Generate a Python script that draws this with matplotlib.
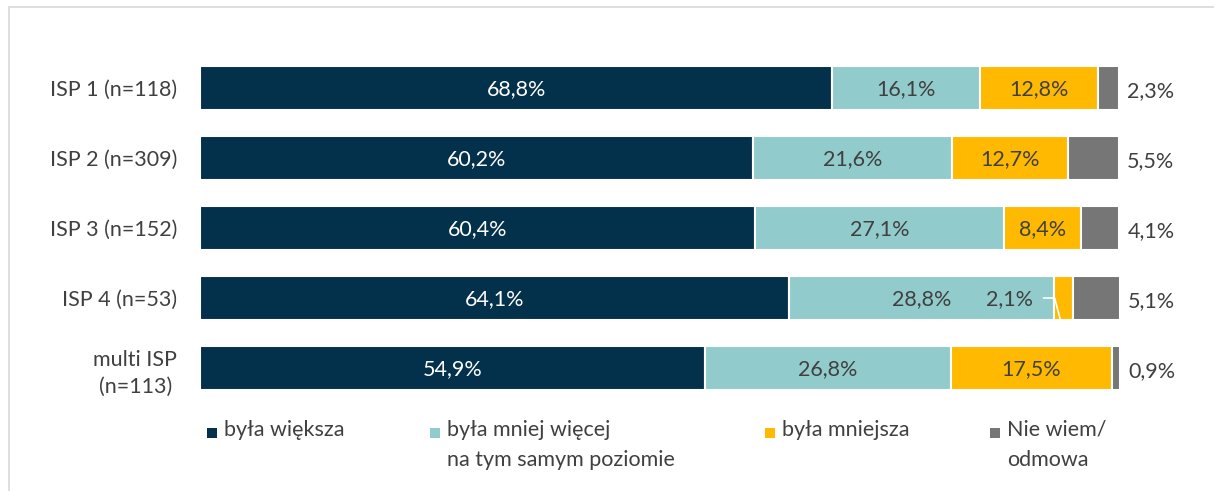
import matplotlib
matplotlib.use("Agg")
import matplotlib.pyplot as plt
from matplotlib.patches import Rectangle
import numpy as np

plt.rcParams['font.family'] = ['Lato', 'DejaVu Sans']

categories = ["ISP 1 (n=118)", "ISP 2 (n=309)", "ISP 3 (n=152)", "ISP 4 (n=53)", "multi ISP\n(n=113)"]
series_names = ["była większa", "była mniej więcej\nna tym samym poziomie", "była mniejsza", "Nie wiem/\nodmowa"]
wieksza = [68.8, 60.2, 60.4, 64.1, 54.9]
taka_sama = [16.1, 21.6, 27.1, 28.8, 26.8]
mniejsza = [12.8, 12.7, 8.4, 2.1, 17.5]
nie_wiem = [2.3, 5.5, 4.1, 5.1, 0.9]

colors = ["#03304a", "#92cbcb", "#ffb900", "#767676"]
text_dark = "#404040"

W, H = 1214, 491
fig = plt.figure(figsize=(W / 100, H / 100), dpi=100)

# outer border
fig.add_artist(Rectangle((9 / W, -0.1), 1.2, 1 - 7 / H + 0.1, transform=fig.transFigure,
                         fill=False, edgecolor="#d9d9d9", linewidth=1.2))

ax = fig.add_axes([200 / W, 1 - 403 / H, 919 / W, 350 / H])
series = [wieksza, taka_sama, mniejsza, nie_wiem]
y = np.arange(len(categories))
left = np.zeros(len(categories))
fs = 15.5
for si, vals in enumerate(series):
    vals = np.array(vals)
    ax.barh(y, vals, left=left, height=0.63, color=colors[si], edgecolor="white", linewidth=1.5)
    for i, v in enumerate(vals):
        lab = f"{v:.1f}".replace(".", ",") + "%"
        if si == 3:
            ax.text(left[i] + v + 0.9, y[i] + 0.05, lab, ha="left", va="center", color=text_dark, fontsize=fs)
        elif si == 2 and v < 5:
            # small segment: label placed inside the previous segment with leader line
            tx = left[i] - 4.8
            ax.text(tx, y[i] + 0.02, lab, ha="center", va="center", color=text_dark, fontsize=fs)
            ax.plot([tx + 3.7, tx + 4.9, left[i] + v * 0.35], [y[i], y[i], y[i] + 0.32],
                    color="white", linewidth=1.2)
        else:
            ax.text(left[i] + v / 2, y[i] + 0.02, lab, ha="center", va="center",
                    color="white" if si == 0 else text_dark, fontsize=fs)
    left = left + vals

ax.set_xlim(0, 100)
ax.set_ylim(len(categories) - 0.5, -0.5)
ax.set_yticks(y)
ax.set_yticklabels(categories, fontsize=fs, color=text_dark, multialignment="center", linespacing=1.45)
ax.tick_params(axis="y", length=0, pad=16.5)
ax.set_xticks([])
for s in ax.spines.values():
    s.set_visible(False)

# legend
leg_x = [207, 430, 765, 990]
for k, name in enumerate(series_names):
    fig.add_artist(Rectangle((leg_x[k] / W, 1 - 438 / H), 10 / W, 10 / H, transform=fig.transFigure,
                             facecolor=colors[k], edgecolor="none"))
    fig.text((leg_x[k] + 17) / W, 1 - 420 / H, name, ha="left", va="top", fontsize=fs,
             color=text_dark, linespacing=1.6, transform=fig.transFigure)

fig.savefig("out.png", dpi=100)
